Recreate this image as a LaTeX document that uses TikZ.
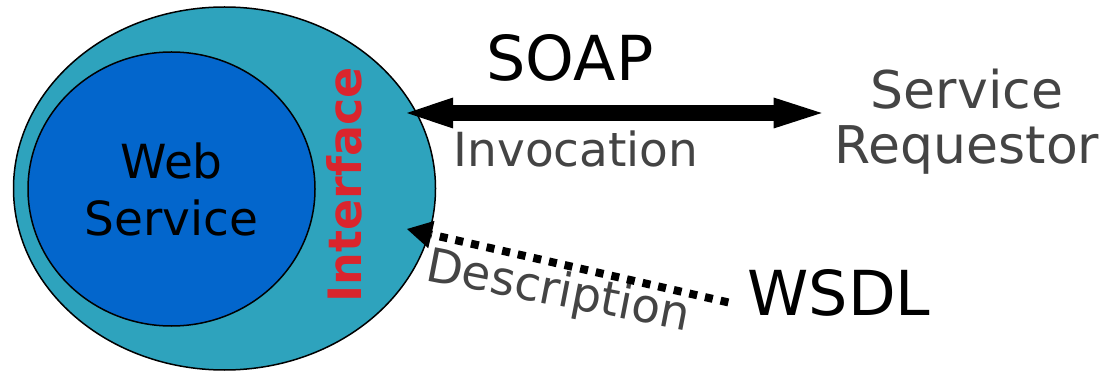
\documentclass[tikz,border=0pt]{standalone}
\usepackage{fontspec}
\setmainfont{DejaVu Sans}
\usetikzlibrary{shapes.geometric,arrows.meta,positioning}
\definecolor{ifteal}{RGB}{46,163,189}
\definecolor{wsblue}{RGB}{3,102,204}
\definecolor{ifred}{RGB}{218,37,45}
\definecolor{txtgray}{RGB}{68,68,68}
\tikzset{blob/.style={ellipse, draw=black, line width=1.5pt, inner sep=0pt},
  big/.style={font=\fontsize{62}{72}\selectfont, inner sep=0pt},
  mid/.style={font=\fontsize{47}{57}\selectfont, text=txtgray, inner sep=0pt},
  soap/.style={line width=16pt, {Triangle[length=46pt,width=31pt,line width=0pt]}-{Triangle[length=48pt,width=31pt,line width=0pt]}},
  wsdl/.style={line width=8pt, dash pattern=on 8pt off 8pt, -{Triangle[length=25pt,width=28pt,line width=0pt]}}}

\begin{document}
\begin{tikzpicture}[x=1pt,y=-1pt]
   \useasboundingbox (0,0) rectangle (1107,371);
   \node[blob, fill=ifteal, minimum width=422pt, minimum height=363pt] (iface) at (224.5,188.5) {};
   \node[blob, fill=wsblue, minimum width=287pt, minimum height=274pt, align=center,
     font=\fontsize{47}{57}\selectfont] (ws) at (171.5,189) {Web\\Service};
   \node[rotate=90, inner sep=0pt, text=ifred, font=\fontsize{46}{54}\selectfont\bfseries] (iflabel) at (344.5,184.5) {Interface};
   \node[big, anchor=base] (soap) at (570,81) {SOAP};
   \node[mid, anchor=base] (inv) at (576,167) {Invocation};
   \node[mid, align=center, font=\fontsize{52}{55}\selectfont] (req) at (967,122) {Service\\Requestor};
   \node[big, anchor=base] (wsdl) at (839,315) {WSDL};
   \node[mid, anchor=base west, rotate=-11] (desc) at (424,280) {Description};
   \coordinate (soapTip) at (407,113);
   \coordinate (descTip) at (407,229);
   \coordinate[below left=10pt and 19pt of wsdl.west] (descEnd);
   \draw[soap, shorten >=13pt] (soapTip) -- (soapTip -| req.west);
   \draw[wsdl] (descEnd) -- (descTip);
\end{tikzpicture}
\end{document}
